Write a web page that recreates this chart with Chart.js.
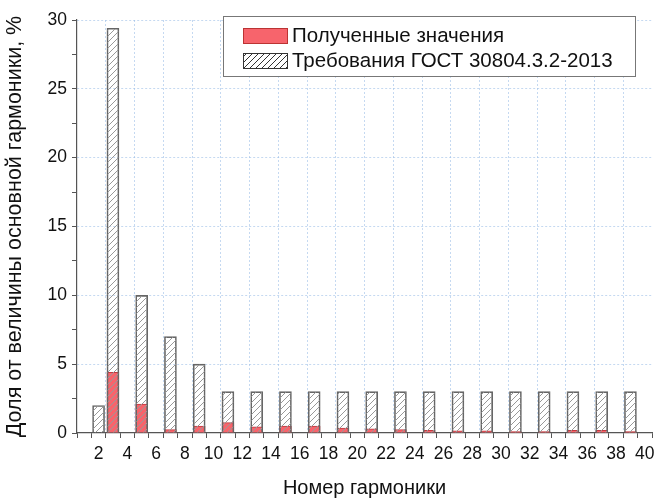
<!DOCTYPE html>
<html>
<head>
<meta charset="utf-8">
<script src="https://cdn.jsdelivr.net/npm/chart.js@4.4.1/dist/chart.umd.min.js"></script>
<style>
  html, body { margin: 0; padding: 0; background: #fff; }
  #wrap { width: 670px; height: 500px; }
</style>
</head>
<body>
<div id="wrap"><canvas id="harmChart" width="670" height="500"></canvas></div>
<script>
// ── Data ──
const gostHarmonics = [2, 3, 5, 7, 9, 11, 13, 15, 17, 19, 21, 23, 25, 27, 29, 31, 33, 35, 37, 39];
const gostValues    = [2, 29.4, 10, 7, 5, 3, 3, 3, 3, 3, 3, 3, 3, 3, 3, 3, 3, 3, 3, 3];
const measHarmonics = [3, 5, 7, 9, 11, 13, 15, 17, 19, 21, 23, 25, 27, 29, 31, 33, 35, 37, 39];
const measValues    = [4.4, 2.1, 0.25, 0.5, 0.75, 0.45, 0.5, 0.5, 0.35, 0.3, 0.25, 0.2, 0.15, 0.15, 0.1, 0.1, 0.2, 0.2, 0.1];
const legendLabels  = ['Полученные значения', 'Требования ГОСТ 30804.3.2-2013'];

const FONT = '"Liberation Sans", Arial, sans-serif';
const RED = '#f7646c';
const GRID = 'rgba(150,185,230,0.55)';

// hatch pattern
function makeHatch(color, bg) {
  const c = document.createElement('canvas');
  c.width = 6; c.height = 6;
  const g = c.getContext('2d');
  if (bg) { g.fillStyle = bg; g.fillRect(0, 0, 6, 6); }
  g.strokeStyle = color; g.lineWidth = 1;
  g.beginPath();
  g.moveTo(0, 6); g.lineTo(6, 0);
  g.moveTo(-3, 3); g.lineTo(3, -3);
  g.moveTo(3, 9); g.lineTo(9, 3);
  g.stroke();
  return g.createPattern(c, 'repeat');
}

const ctx = document.getElementById('harmChart').getContext('2d');
const hatchBars = makeHatch('#999', null);
const hatchLegend = makeHatch('#333', '#fff');

// ── Legend box (drawn inside plot) ──
const boxLegend = {
  id: 'boxLegend',
  afterDraw(chart) {
    const g = chart.ctx;
    g.save();
    g.fillStyle = '#fff';
    g.fillRect(223, 16, 412, 60);
    g.strokeStyle = '#777'; g.lineWidth = 1;
    g.strokeRect(223.5, 16.5, 412, 60);
    g.fillStyle = RED; g.fillRect(243, 28, 44, 15);
    g.strokeStyle = '#b33'; g.strokeRect(243.5, 28.5, 44, 15);
    g.fillStyle = hatchLegend; g.fillRect(243, 53, 44, 15);
    g.strokeStyle = '#333'; g.strokeRect(243.5, 53.5, 44, 15);
    g.fillStyle = '#111';
    g.font = '20.5px ' + FONT;
    g.textBaseline = 'middle';
    g.fillText(legendLabels[0], 292, 36);
    g.fillText(legendLabels[1], 292, 61);
    g.restore();
  }
};

new Chart(ctx, {
  type: 'bar',
  data: {
    datasets: [
      {
        label: legendLabels[1],
        data: gostHarmonics.map((h, i) => ({ x: h, y: gostValues[i] })),
        backgroundColor: hatchBars,
        borderColor: '#666', borderWidth: 1,
        barThickness: 12, grouped: false, order: 0,
      },
      {
        label: legendLabels[0],
        data: measHarmonics.map((h, i) => ({ x: h, y: measValues[i] })),
        backgroundColor: RED,
        borderColor: '#c0393f', borderWidth: 1,
        barThickness: 12, grouped: false, order: 1,
      }
    ]
  },
  options: {
    responsive: false,
    animation: false,
    layout: { padding: { top: 20, right: 18, left: 0, bottom: 0 } },
    plugins: { legend: { display: false }, tooltip: { enabled: false } },
    scales: {
      x: {
        type: 'linear', min: 1, max: 40,
        afterFit: s => { s.height = 67; },
        ticks: {
          stepSize: 1, autoSkip: false, maxRotation: 0,
          color: '#111', font: { family: FONT, size: 17.5 }, padding: 6,
          callback: v => (v % 2 === 0 ? v : '')
        },
        grid: {
          color: c => (c.tick && Math.round(c.tick.value) % 2 === 1 && c.tick.value > 1 ? GRID : 'rgba(0,0,0,0)'),
          tickColor: '#555', tickLength: 5, drawTicks: true, lineWidth: 1,
        },
        border: { color: '#555', width: 1.2, dash: [2, 2] },
        title: { display: true, text: 'Номер гармоники', color: '#111', font: { family: FONT, size: 20 }, padding: { top: 10, bottom: 0 } }
      },
      y: {
        min: 0, max: 30,
        afterFit: s => { s.width = 77; },
        ticks: {
          stepSize: 2.5, autoSkip: false,
          color: '#111', font: { family: FONT, size: 17.5 }, padding: 5,
          callback: v => (v % 5 === 0 ? v : '')
        },
        grid: {
          color: c => (c.tick && c.tick.value % 5 === 0 && c.tick.value > 0 ? GRID : 'rgba(0,0,0,0)'),
          tickColor: '#555', tickLength: 5, lineWidth: 1,
        },
        border: { color: '#555', width: 1.2, dash: [2, 2] },
        title: { display: true, text: 'Доля от величины основной гармоники, %', color: '#111', font: { family: FONT, size: 21.5 }, padding: { top: 2, bottom: 0 } }
      }
    }
  },
  plugins: [boxLegend]
});
</script>
</body>
</html>
